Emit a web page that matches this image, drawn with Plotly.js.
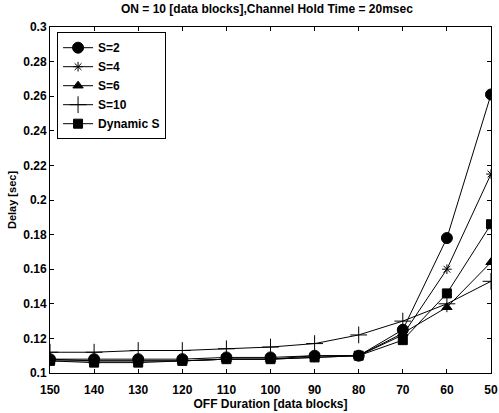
<!DOCTYPE html>
<html>
<head>
<meta charset="utf-8">
<script src="https://cdn.plot.ly/plotly-3.0.1.min.js"></script>
<style>html,body{margin:0;padding:0;background:#fff;}#chart{width:499px;height:413px;}</style>
</head>
<body>
<div id="chart"></div>
<script>
const offDuration = [150, 140, 130, 120, 110, 100, 90, 80, 70, 60, 50];
const s2  = [0.108, 0.108, 0.108, 0.108, 0.109, 0.109, 0.110, 0.110, 0.125, 0.178, 0.261];
const s4  = [0.108, 0.107, 0.107, 0.107, 0.108, 0.108, 0.109, 0.110, 0.122, 0.160, 0.215];
const s6  = [0.107, 0.107, 0.107, 0.107, 0.108, 0.108, 0.110, 0.110, 0.123, 0.138, 0.164];
const s10 = [0.112, 0.112, 0.113, 0.113, 0.114, 0.115, 0.117, 0.122, 0.130, 0.140, 0.153];
const sDyn = [0.107, 0.106, 0.106, 0.107, 0.108, 0.108, 0.109, 0.110, 0.119, 0.146, 0.186];
const seriesNames = ['S=2', 'S=4', 'S=6', 'S=10', 'Dynamic S'];
const xTicks = [150, 140, 130, 120, 110, 100, 90, 80, 70, 60, 50];
const yTicks = [0.1, 0.12, 0.14, 0.16, 0.18, 0.2, 0.22, 0.24, 0.26, 0.28, 0.3];
const yTickText = ['0.1', '0.12', '0.14', '0.16', '0.18', '0.2', '0.22', '0.24', '0.26', '0.28', '0.3'];

const data = [s2, s4, s6, s10, sDyn];
const symbols = ['circle', 'asterisk-open', 'triangle-up', 'cross-thin-open', 'square'];
const sizes = [11, 8, 9, 12, 9];
const traces = data.map((ys, i) => ({
  x: offDuration, y: ys, name: seriesNames[i], type: 'scatter', mode: 'lines+markers',
  line: {color: '#000', width: 1},
  marker: {symbol: symbols[i], size: sizes[i], color: '#000', line: {color: '#000', width: 1}}
}));

const fam = 'Liberation Sans, Arial, sans-serif';
const layout = {
  width: 499, height: 413,
  margin: {l: 50, r: 8, t: 27, b: 40},
  paper_bgcolor: '#fff', plot_bgcolor: '#fff',
  font: {family: fam, size: 12, color: '#000', weight: 'bold'},
  title: {text: 'ON = 10 [data blocks],Channel Hold Time = 20msec', font: {family: fam, size: 12, color: '#000', weight: 'bold'}, x: 0.535, xanchor: 'center', y: 0.988, yanchor: 'top'},
  xaxis: {
    range: [150, 50], tickvals: xTicks, ticktext: xTicks.map(String),
    ticks: 'inside', ticklen: 4, tickcolor: '#000', mirror: 'ticks', showline: true, linecolor: '#000', linewidth: 1,
    showgrid: false, zeroline: false, ticklabelstandoff: 6, tickfont: {family: fam, size: 12, weight: 'bold', color: '#000'},
    title: {text: 'OFF Duration [data blocks]', font: {family: fam, size: 12, weight: 'bold', color: '#000'}, standoff: 1}
  },
  yaxis: {
    range: [0.1, 0.3], tickvals: yTicks, ticktext: yTickText,
    ticks: 'inside', ticklen: 4, tickcolor: '#000', mirror: 'ticks', showline: true, linecolor: '#000', linewidth: 1,
    showgrid: false, zeroline: false, tickfont: {family: fam, size: 12, weight: 'bold', color: '#000'},
    title: {text: 'Delay [sec]', font: {family: fam, size: 11, weight: 'bold', color: '#000'}, standoff: 4}
  },
  showlegend: true,
  legend: {x: 0.016, y: 0.985, xanchor: 'left', yanchor: 'top', bordercolor: '#000', borderwidth: 1, bgcolor: '#fff',
    font: {family: fam, size: 12, weight: 'bold', color: '#000'}, tracegroupgap: 0, itemwidth: 30}
};
Plotly.newPlot('chart', traces, layout, {displayModeBar: false, staticPlot: true});
</script>
</body>
</html>
